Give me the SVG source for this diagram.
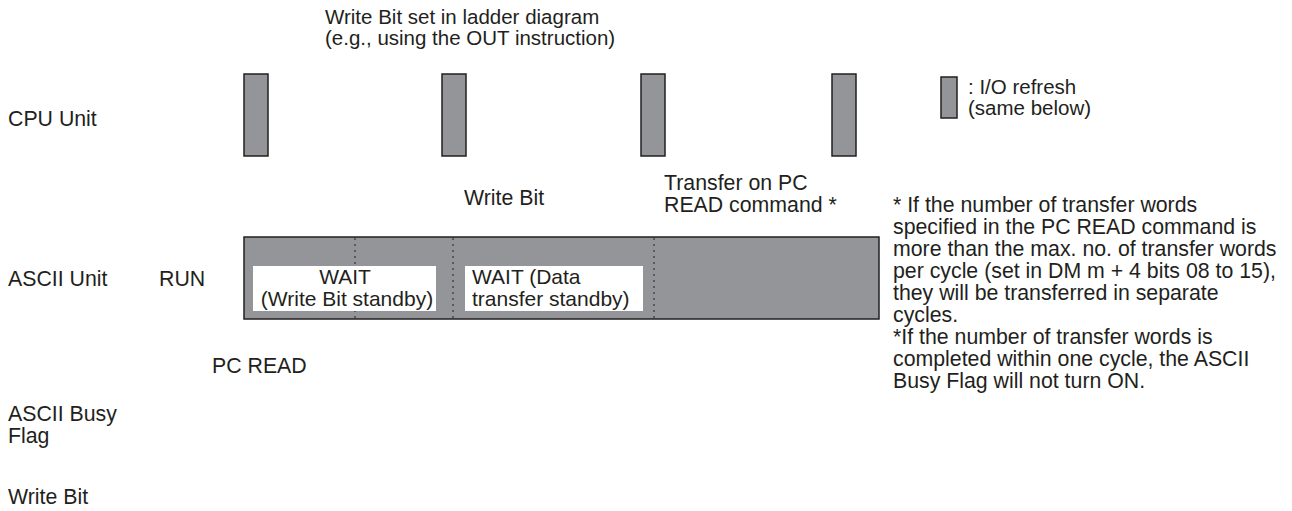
<svg xmlns="http://www.w3.org/2000/svg" width="1292" height="511" viewBox="0 0 1292 511">
<style>
text{font-family:"Liberation Sans",Arial,sans-serif;font-size:21.3px;fill:#231f20}
.sm{font-size:20.5px}
.w{font-size:21px}
.bar{fill:#939598;stroke:#231f20;stroke-width:1.5}
.box{fill:#939598;stroke:#231f20;stroke-width:1.5}
.wbox{fill:#ffffff}
.dot{stroke:#231f20;stroke-width:1;stroke-dasharray:2 4;fill:none}
</style>
<rect width="1292" height="511" fill="#ffffff"/>
<g id="labels">
<text x="8" y="126">CPU Unit</text>
<text x="8" y="286">ASCII Unit</text>
<text x="159" y="286">RUN</text>
<text x="212" y="373">PC READ</text>
<text x="8" y="421">ASCII Busy</text>
<text x="8" y="443">Flag</text>
<text x="8" y="504">Write Bit</text>
</g>
<g id="top-note">
<text class="sm" x="325" y="24">Write Bit set in ladder diagram</text>
<text class="sm" x="325" y="45">(e.g., using the OUT instruction)</text>
</g>
<g id="cpu-bars">
<rect class="bar" x="244" y="74" width="24" height="82"/>
<rect class="bar" x="442" y="74" width="24" height="82"/>
<rect class="bar" x="641" y="74" width="24" height="82"/>
<rect class="bar" x="832" y="74" width="24" height="82"/>
</g>
<g id="legend">
<rect class="bar" x="941" y="77" width="16" height="41"/>
<text class="sm" x="968" y="94">: I/O refresh</text>
<text class="sm" x="968" y="115">(same below)</text>
</g>
<g id="mid-labels">
<text x="464" y="205">Write Bit</text>
<text x="664" y="190">Transfer on PC</text>
<text x="664" y="212">READ command *</text>
</g>
<g id="ascii-unit">
<rect class="box" x="244" y="237" width="635" height="82"/>
<line class="dot" x1="355" y1="238" x2="355" y2="318"/>
<line class="dot" x1="453" y1="238" x2="453" y2="318"/>
<line class="dot" x1="654" y1="238" x2="654" y2="318"/>
<rect class="wbox" x="253" y="266" width="183" height="45"/>
<rect class="wbox" x="465" y="266" width="178" height="45"/>
<text class="w" x="345" y="284" text-anchor="middle">WAIT</text>
<text class="w" x="347" y="306" text-anchor="middle">(Write Bit standby)</text>
<text class="w" x="472" y="284">WAIT (Data</text>
<text class="w" x="472" y="306">transfer standby)</text>
</g>
<g id="footnote">
<text x="893" y="212">* If the number of transfer words</text>
<text x="893" y="234">specified in the PC READ command is</text>
<text x="893" y="256">more than the max. no. of transfer words</text>
<text x="893" y="278">per cycle (set in DM m + 4 bits 08 to 15),</text>
<text x="893" y="300">they will be transferred in separate</text>
<text x="893" y="322">cycles.</text>
<text x="893" y="344">*If the number of transfer words is</text>
<text x="893" y="366">completed within one cycle, the ASCII</text>
<text x="893" y="388">Busy Flag will not turn ON.</text>
</g>
<g id="connectors"></g>
</svg>
